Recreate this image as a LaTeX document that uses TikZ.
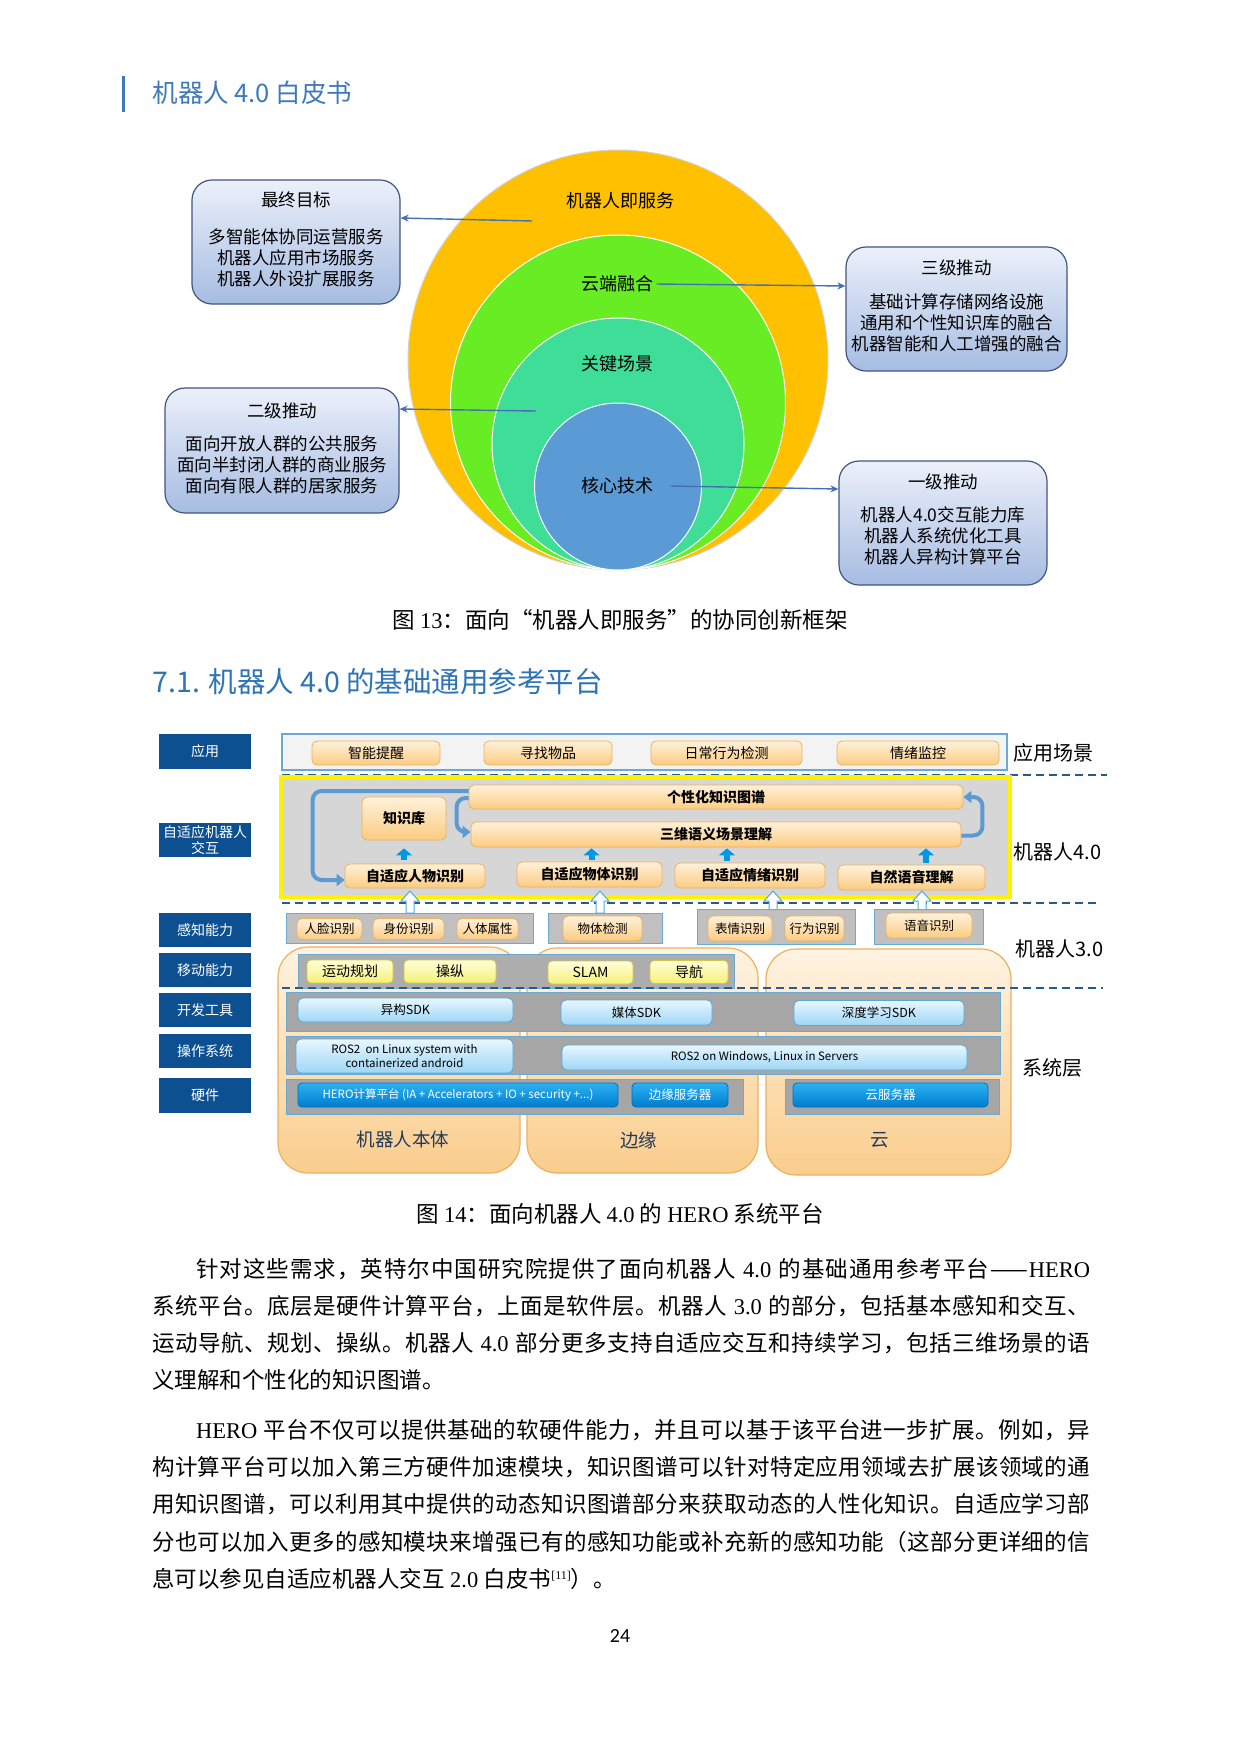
\documentclass[tikz,border=0pt]{standalone}
\usepackage{fontspec}
\setmainfont{Noto Sans CJK SC}
\newfontfamily\latserif{Liberation Serif}
\newfontfamily\calfont{Carlito}
\usetikzlibrary{arrows.meta,positioning}
\newcommand{\fsz}[2]{\fontsize{#1}{#2}\selectfont}
\newcommand{\gap}{\hspace*{5.5pt}}
% spread the tokens of a line over a box of given width
\makeatletter
\def\spr#1{\spr@first#1\relax}
\def\spr@first#1{{#1}\spr@next}
\def\spr@next#1{\ifx\relax#1\else\hskip 0pt plus 1fil\relax{#1}\expandafter\spr@next\fi}
\makeatother
\newcommand{\jline}[2]{\hbox to #1{\spr{#2}}}

% colours
\definecolor{headblue}{RGB}{62,122,186}
\definecolor{secblue}{RGB}{46,116,181}
\definecolor{ringorange}{RGB}{255,192,0}
\definecolor{ringgreen}{RGB}{104,236,36}
\definecolor{ringteal}{RGB}{62,222,152}
\definecolor{ringblue}{RGB}{91,155,213}
\definecolor{boxtop}{RGB}{236,240,250}
\definecolor{boxbot}{RGB}{166,188,226}
\definecolor{boxline}{RGB}{64,86,128}
\definecolor{ptrblue}{RGB}{68,112,180}
\definecolor{sideblue}{RGB}{12,80,145}
\definecolor{ortop}{RGB}{255,241,218}
\definecolor{orbot}{RGB}{252,204,130}
\definecolor{orline}{RGB}{240,176,90}
\definecolor{yetop}{RGB}{255,255,218}
\definecolor{yebot}{RGB}{246,240,118}
\definecolor{yeline}{RGB}{214,196,70}
\definecolor{lbtop}{RGB}{232,247,255}
\definecolor{lbbot}{RGB}{158,214,245}
\definecolor{lbline}{RGB}{88,168,220}
\definecolor{dbtop}{RGB}{44,178,242}
\definecolor{dbbot}{RGB}{0,124,206}
\definecolor{dbline}{RGB}{0,110,190}
\definecolor{bandlight}{RGB}{192,192,192}
\definecolor{banddark}{RGB}{166,166,166}
\definecolor{bandline}{RGB}{104,170,210}
\definecolor{appgray}{RGB}{243,243,243}
\definecolor{framegray}{RGB}{214,214,214}
\definecolor{frameyellow}{RGB}{255,242,0}
\definecolor{conttop}{RGB}{255,243,226}
\definecolor{contbot}{RGB}{250,205,140}
\definecolor{contline}{RGB}{236,176,96}
\definecolor{contlbltext}{RGB}{34,58,96}
\definecolor{dashblue}{RGB}{40,90,140}
\definecolor{loopblue}{RGB}{92,154,212}
\definecolor{upblue}{RGB}{0,152,226}
\definecolor{hollowline}{RGB}{80,170,220}

\tikzset{
  ring/.style={circle, draw=white, line width=1pt, inner sep=0pt},
  ringlbl/.style={font=\fsz{18}{22}},
  goalbox/.style={draw=boxline, line width=1.2pt, rounded corners=20pt,
    top color=boxtop, bottom color=boxbot, inner sep=0pt},
  boxtitle/.style={font=\fsz{17.5}{21}},
  boxbody/.style={font=\fsz{17.5}{21}, align=center},
  ptr/.style={draw=ptrblue, line width=1.4pt, -{Stealth[length=8pt,width=7pt]}},
  sidelbl/.style={fill=sideblue, text=white, minimum width=92pt, minimum height=34pt,
    inner sep=0pt, align=center, font=\fsz{14}{15.5}},
  appitem/.style={rounded corners=5pt, draw=orline, line width=0.8pt, top color=ortop,
    bottom color=orbot, inner sep=0pt, minimum height=24pt, font=\fsz{14}{16}},
  kgitem/.style={appitem, font={\fsz{14}{16}\bfseries}},
  percitem/.style={appitem, minimum height=25pt, font=\fsz{12.5}{14}},
  mobitem/.style={rounded corners=4pt, draw=yeline, line width=0.8pt, top color=yetop,
    bottom color=yebot, inner sep=0pt, minimum height=23pt, font=\fsz{14}{16}},
  sdkitem/.style={rounded corners=5pt, draw=lbline, line width=0.8pt, top color=lbtop,
    bottom color=lbbot, inner sep=0pt, minimum height=25pt, font=\fsz{12.5}{14}, align=center},
  hwitem/.style={rounded corners=4pt, draw=dbline, line width=0.8pt, top color=dbtop,
    bottom color=dbbot, text=white, inner sep=0pt, minimum height=24pt, font=\fsz{11.5}{13}},
  band/.style={fill=bandlight, draw=bandline, line width=1pt, inner sep=0pt},
  darkband/.style={band, fill=banddark},
  cont/.style={rounded corners=30pt, draw=contline, line width=1.2pt, top color=conttop,
    bottom color=contbot, inner sep=0pt},
  contlbl/.style={font=\fsz{18.5}{20}, text=contlbltext},
  layerlbl/.style={font=\fsz{20}{22}, anchor=west},
  layerdash/.style={draw=dashblue, line width=1.8pt, dash pattern=on 8pt off 5pt},
  loopline/.style={draw=loopblue, line width=4pt, rounded corners=9pt,
    -{Triangle[length=8pt,width=12pt]}},
  uparrow/.style={draw=upblue, line width=6pt, -{Triangle[length=7pt,width=16pt]},
    shorten <=2pt, shorten >=1pt},
  hollowup/.style={draw=hollowline, fill=white, line width=1pt},
  bodyline/.style={anchor=west, inner sep=0pt, font=\fsz{22.5}{26}},
  caption/.style={font=\fsz{22.5}{26}},
}

\begin{document}
\begin{tikzpicture}[x=1pt,y=-1pt]
  \fill[white] (0,0) rectangle (1240,1754);
  \useasboundingbox (0,0) rectangle (1240,1754);

  % running head
  \draw[headblue, line width=3pt] (123,76) -- (123,112);
  \node[anchor=west, text=headblue, font=\fsz{25.5}{28}] (runhead) at (149,93) {机器人 4.0 白皮书};

  % figure 13: nested rings
  \node[ring, draw=gray!35, fill=ringorange, minimum size=420pt] (serv) at (618,360) {};
  \node[ring, fill=ringgreen, minimum size=335pt] (cloud) at (618,402.5) {};
  \node[ring, fill=ringteal, minimum size=252pt] (scene) at (618,444) {};
  \node[ring, fill=ringblue, minimum size=167pt] (core) at (618,486.5) {};
  \node[ringlbl] (servlbl) at (620,201) {机器人即服务};
  \node[ringlbl] (cloudlbl) at (617,284) {云端融合};
  \node[ringlbl] (scenelbl) at (617,364) {关键场景};
  \node[ringlbl] (corelbl) at (617,486) {核心技术};

  % figure 13: boxes
  \node[goalbox, minimum width=208pt, minimum height=124pt] (goal) at (296,242) {};
  \node[boxtitle] (goalt) at ([yshift=-20pt]goal.north) {最终目标};
  \node[boxbody] (goalb) at ([yshift=-78pt]goal.north) {多智能体协同运营服务\\机器人应用市场服务\\机器人外设扩展服务};
  \node[goalbox, minimum width=234pt, minimum height=125pt] (second) at (282,450.5) {};
  \node[boxtitle] (secondt) at ([yshift=-23pt]second.north) {二级推动};
  \node[boxbody] (secondb) at ([yshift=-77pt]second.north) {面向开放人群的公共服务\\面向半封闭人群的商业服务\\面向有限人群的居家服务};
  \node[goalbox, minimum width=221pt, minimum height=124pt] (third) at (956.5,309) {};
  \node[boxtitle] (thirdt) at ([yshift=-21pt]third.north) {三级推动};
  \node[boxbody] (thirdb) at ([yshift=-76pt]third.north) {基础计算存储网络设施\\通用和个性知识库的融合\\机器智能和人工增强的融合};
  \node[goalbox, minimum width=208pt, minimum height=124pt] (first) at (943,523) {};
  \node[boxtitle] (firstt) at ([yshift=-21pt]first.north) {一级推动};
  \node[boxbody] (firstb) at ([yshift=-75pt]first.north) {机器人4.0交互能力库\\机器人系统优化工具\\机器人异构计算平台};

  \coordinate (goalsrc) at (532,221);
  \coordinate (secsrc) at (536,411);
  \draw[ptr] (goalsrc) -- ([yshift=24pt]goal.east);
  \draw[ptr] (secsrc) -- ([yshift=41.5pt]second.east);
  \draw[ptr] (cloudlbl.east) -- ([yshift=23pt]third.west);
  \draw[ptr] ([xshift=14pt]corelbl.east) -- ([yshift=34pt]first.west);

  \node[caption] (cap13) at (620,620) {图 {\latserif 13}：面向“机器人即服务”的协同创新框架};

  % section heading
  \node[anchor=west, text=secblue, font=\fsz{28.5}{32}] (sec71) at (149,682) {7.1. 机器人 4.0 的基础通用参考平台};

  % figure 14: side labels
  \node[sidelbl, minimum height=35pt] (lapp) at (205,751.5) {应用};
  \node[sidelbl] (lada) at (205,840) {自适应机器人\\交互};
  \node[sidelbl] (lperc) at (205,930) {感知能力};
  \node[sidelbl] (lmob) at (205,970) {移动能力};
  \node[sidelbl] (ldev) at (205,1010) {开发工具};
  \node[sidelbl] (los) at (205,1051) {操作系统};
  \node[sidelbl, minimum height=35pt] (lhw) at (205,1095.5) {硬件};

  % application row
  \node[fill=appgray, draw=bandline, line width=1.2pt, inner sep=0pt,
    minimum width=725pt, minimum height=36pt] (appband) at (644.5,752) {};
  \node[appitem, minimum width=128pt] (remind) at (376,753) {智能提醒};
  \node[appitem, minimum width=128pt] (findobj) at (548,753) {寻找物品};
  \node[appitem, minimum width=151pt] (daily) at (726.5,753) {日常行为检测};
  \node[appitem, minimum width=162pt] (mood) at (918,753) {情绪监控};
  \draw[layerdash] (282,775) -- (1107,775);

  % robot 4.0 frame
  \node[draw=frameyellow, line width=3.5pt, fill=framegray, inner sep=0pt,
    minimum width=729pt, minimum height=120pt] (frame4) at (645.5,837) {};
  \node[kgitem, minimum width=84pt, minimum height=43pt] (kb) at (404,818.5) {知识库};
  \node[kgitem, minimum width=494pt] (kg) at (716,797) {个性化知识图谱};
  \node[kgitem, minimum width=490pt, minimum height=25pt] (sem) at (716,834.5) {三维语义场景理解};
  \node[kgitem, minimum width=140pt] (person) at (415,876) {自适应人物识别};
  \node[kgitem, minimum width=145pt, minimum height=25pt] (obj) at (589.5,874.5) {自适应物体识别};
  \node[kgitem, minimum width=150pt, minimum height=25pt] (emo) at (750,875.5) {自适应情绪识别};
  \node[kgitem, minimum width=147pt, minimum height=25pt] (nlu) at (911.5,877.5) {自然语音理解};

  \draw[loopline] ([yshift=6pt]kg.west) -| ([xshift=-32pt,yshift=-4pt]person.west) -- ([yshift=-4pt]person.west);
  \draw[loopline] ([yshift=-1pt]kg.west) -| ([xshift=-14pt,yshift=2.5pt]sem.west) -- ([yshift=2.5pt]sem.west);
  \draw[loopline] ([yshift=-1pt]sem.east) -| ([xshift=19pt]kg.east) -- (kg.east);

  \draw[uparrow, shorten <=4pt, shorten >=8pt] (kb.south |- person.north) -- (kb.south);
  \draw[uparrow] ([xshift=2pt]obj.north) -- ([xshift=2pt]obj.north |- sem.south);
  \draw[uparrow] ([xshift=-23pt]emo.north) -- ([xshift=-23pt]emo.north |- sem.south);
  \draw[uparrow] ([xshift=14.5pt]nlu.north) -- ([xshift=14.5pt]nlu.north |- sem.south);

  \draw[layerdash] (282,903) -- (1100,903);
  \foreach \ax in {410,600,773,922}
    \draw[hollowup] (\ax-4,913) -- (\ax-4,901) -- (\ax-9,901) -- (\ax,891)
      -- (\ax+9,901) -- (\ax+4,901) -- (\ax+4,913) -- cycle;

  % perception row
  \node[band, minimum width=247pt, minimum height=30pt] (percA) at (409.5,928) {};
  \node[percitem, minimum width=65pt, minimum height=21pt] (face) at (329.5,929) {人脸识别};
  \node[percitem, minimum width=71pt, minimum height=21pt] (ident) at (408.5,929) {身份识别};
  \node[percitem, minimum width=61pt, minimum height=21pt] (attr) at (487.5,929) {人体属性};
  \node[band, minimum width=114pt, minimum height=30pt] (percB) at (605,928) {};
  \node[percitem, minimum width=79pt] (detect) at (602.5,928.5) {物体检测};
  \node[band, minimum width=158pt, minimum height=35pt] (percC) at (776,926.5) {};
  \node[percitem, minimum width=64pt] (expr) at (740,928.5) {表情识别};
  \node[percitem, minimum width=59pt] (behav) at (814.5,928.5) {行为识别};
  \node[band, minimum width=109pt, minimum height=35pt] (percD) at (928.5,926.5) {};
  \node[percitem, minimum width=86pt] (speech) at (929,925.5) {语音识别};

  % containers
  \node[cont, minimum width=242pt, minimum height=226pt] (body) at (399,1060) {};
  \node[cont, minimum width=231pt, minimum height=225pt] (edge) at (642.5,1060.5) {};
  \node[cont, minimum width=245pt, minimum height=226pt] (cloudc) at (888.5,1062) {};

  % mobility row
  \node[band, fill=bandlight!90!black, minimum width=436pt, minimum height=34pt] (mobband) at (516,971) {};
  \node[mobitem, minimum width=86pt] (plan) at (350,971.5) {运动规划};
  \node[mobitem, minimum width=92pt] (manip) at (450,971.5) {操纵};
  \node[mobitem, minimum width=85pt] (slam) at (590.5,972.5) {SLAM};
  \node[mobitem, minimum width=78pt] (navi) at (689,972) {导航};

  % system layer
  \node[darkband, minimum width=714pt, minimum height=39pt] (sdkband) at (643,1011.5) {};
  \node[sdkitem, minimum width=215pt, minimum height=24pt] (hsdk) at (405.5,1010) {异构SDK};
  \node[sdkitem, minimum width=151pt] (msdk) at (636.5,1012.5) {媒体SDK};
  \node[sdkitem, minimum width=170pt] (dsdk) at (879,1013) {深度学习SDK};
  \node[darkband, minimum width=714pt, minimum height=38pt] (osband) at (643,1055) {};
  \node[sdkitem, minimum width=217pt, minimum height=34pt, font=\fsz{11.5}{14}] (rosl) at (404.5,1056) {ROS2~ on Linux system with\\containerized android};
  \node[sdkitem, minimum width=405pt, font=\fsz{11.5}{14}] (ross) at (764.5,1057.5) {ROS2 on Windows, Linux in Servers};
  \node[darkband, minimum width=457pt, minimum height=35pt] (hwband) at (514.5,1096.5) {};
  \node[hwitem, minimum width=320pt] (hero) at (458,1095) {HERO计算平台 (IA + Accelerators + IO + security +...)};
  \node[hwitem, minimum width=96pt, font=\fsz{12.5}{14}] (edgesrv) at (680,1095) {边缘服务器};
  \node[darkband, minimum width=214pt, minimum height=35pt] (hwbandr) at (892,1096.5) {};
  \node[hwitem, minimum width=195pt, font=\fsz{12.5}{14}] (cloudsrv) at (890.5,1095) {云服务器};

  \draw[layerdash] (282,988) -- (1103,988);

  \node[contlbl] (bodylbl) at ([xshift=4pt,yshift=34pt]body.south) {机器人本体};
  \node[contlbl] (edgelbl) at ([xshift=-4pt,yshift=33pt]edge.south) {边缘};
  \node[contlbl] (cloudlbl2) at ([xshift=-9pt,yshift=35pt]cloudc.south) {云};

  % layer names
  \node[layerlbl] (napp) at (1010,753) {应用场景};
  \node[layerlbl] (n40) at (1010,852) {机器人4.0};
  \node[layerlbl] (n30) at (1012,949) {机器人3.0};
  \node[layerlbl] (nsys) at (1019,1068) {系统层};

  \node[caption] (cap14) at (620,1214) {图 {\latserif 14}：面向机器人 {\latserif 4.0} 的 {\latserif HERO} 系统平台};

  % body text
  \node[bodyline] (p1a) at (196,1269) {\jline{894pt}{针对这些需求，英特尔中国研究院提供了面向机器人\gap{\latserif 4.0}\gap 的基础通用参考平台{——}{\latserif HERO}}};
  \node[bodyline] (p1b) at (152,1306) {\jline{938pt}{系统平台。底层是硬件计算平台，上面是软件层。机器人\gap{\latserif 3.0}\gap 的部分，包括基本感知和交互、}};
  \node[bodyline] (p1c) at (152,1343) {\jline{938pt}{运动导航、规划、操纵。机器人\gap{\latserif 4.0}\gap 部分更多支持自适应交互和持续学习，包括三维场景的语}};
  \node[bodyline] (p1d) at (152,1380) {义理解和个性化的知识图谱。};
  \node[bodyline] (p2a) at (196,1430) {\jline{894pt}{{\latserif HERO}\gap 平台不仅可以提供基础的软硬件能力，并且可以基于该平台进一步扩展。例如，异}};
  \node[bodyline] (p2b) at (152,1467) {\jline{938pt}{构计算平台可以加入第三方硬件加速模块，知识图谱可以针对特定应用领域去扩展该领域的通}};
  \node[bodyline] (p2c) at (152,1504) {\jline{938pt}{用知识图谱，可以利用其中提供的动态知识图谱部分来获取动态的人性化知识。自适应学习部}};
  \node[bodyline] (p2d) at (152,1542) {\jline{938pt}{分也可以加入更多的感知模块来增强已有的感知功能或补充新的感知功能（这部分更详细的信}};
  \node[bodyline] (p2e) at (152,1579) {息可以参见自适应机器人交互\gap{\latserif 2.0}\gap 白皮书\raisebox{8pt}{\fsz{12}{12}\latserif [11]}）。};

  \node[font=\calfont\fsz{20}{22}] (pageno) at (620,1636) {24};
\end{tikzpicture}
\end{document}
